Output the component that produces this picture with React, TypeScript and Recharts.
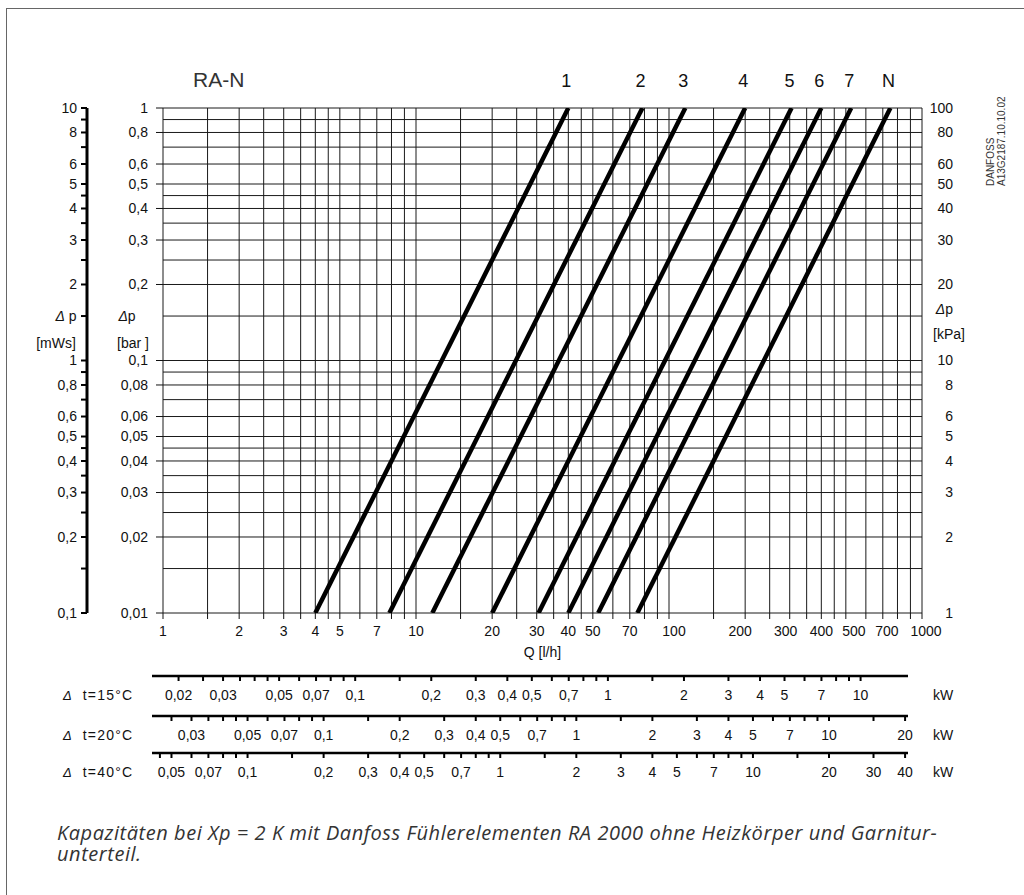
import React from 'react'
import { LineChart, Line, XAxis, YAxis, CartesianGrid, LabelList } from 'recharts'

// pressure drop curves, dp in bar, Q in l/h (each curve is a straight line in log-log)
const curveNames = ['1', '2', '3', '4', '5', '6', '7', 'N']
const qAtLowDp = [4, 7.85, 11.6, 20, 30.5, 40, 52.5, 75]
const qAtHighDp = [40, 78.5, 116, 200, 305, 400, 525, 750]
const dpLow = 0.01
const dpHigh = 1

// Q axis
const qGrid = [1, 1.5, 2, 2.5, 3, 3.5, 4, 4.5, 5, 6, 7, 8, 9, 10, 15, 20, 25, 30, 35, 40, 45, 50, 60, 70, 80, 90, 100, 150, 200, 250, 300, 350, 400, 450, 500, 600, 700, 800, 900, 1000]
const qLabels = [1, 2, 3, 4, 5, 7, 10, 20, 30, 40, 50, 70, 100, 200, 300, 400, 500, 700, 1000]
// small horizontal shifts of crowded labels, as in the original print
const qLabelNudge: Record<number, number> = { 100: 5, 200: -5, 300: -4, 500: 8, 700: 4, 1000: 4 }

// bar axis
const barGrid = [0.01, 0.015, 0.02, 0.025, 0.03, 0.035, 0.04, 0.045, 0.05, 0.06, 0.07, 0.08, 0.09, 0.1, 0.15, 0.2, 0.25, 0.3, 0.35, 0.4, 0.45, 0.5, 0.6, 0.7, 0.8, 0.9, 1]
const barLabels = [0.01, 0.02, 0.03, 0.04, 0.05, 0.06, 0.08, 0.1, 0.2, 0.3, 0.4, 0.5, 0.6, 0.8, 1]

// mWs axis
const mwsTicks = [0.1, 0.15, 0.2, 0.25, 0.3, 0.35, 0.4, 0.45, 0.5, 0.6, 0.7, 0.8, 0.9, 1, 1.5, 2, 2.5, 3, 3.5, 4, 4.5, 5, 6, 7, 8, 9, 10]
const mwsLabels = [0.1, 0.2, 0.3, 0.4, 0.5, 0.6, 0.8, 1, 2, 3, 4, 5, 6, 8, 10]

// kPa axis
const kpaTicks = [1, 2, 3, 4, 5, 6, 8, 10, 15, 20, 30, 40, 50, 60, 80, 100]
const kpaLabels = [1, 2, 3, 4, 5, 6, 8, 10, 20, 30, 40, 50, 60, 80, 100]

// kW scales
const kwScaleRange = [0.9, 883] // Q span of the kW scale lines
const kw15Ticks = [0.02, 0.025, 0.03, 0.035, 0.04, 0.045, 0.05, 0.06, 0.07, 0.08, 0.09, 0.1, 0.15, 0.2, 0.3, 0.4, 0.5, 0.6, 0.7, 0.8, 0.9, 1, 1.5, 2, 3, 4, 5, 6, 7, 8, 9, 10]
const kw15Labels = [0.02, 0.03, 0.05, 0.07, 0.1, 0.2, 0.3, 0.4, 0.5, 0.7, 1, 2, 3, 4, 5, 7, 10]
const kw20Ticks = [0.025, 0.03, 0.035, 0.04, 0.045, 0.05, 0.06, 0.07, 0.08, 0.09, 0.1, 0.15, 0.2, 0.3, 0.4, 0.5, 0.6, 0.7, 0.8, 0.9, 1, 1.5, 2, 3, 4, 5, 6, 7, 8, 9, 10, 15, 20]
const kw20Labels = [0.03, 0.05, 0.07, 0.1, 0.2, 0.3, 0.4, 0.5, 0.7, 1, 2, 3, 4, 5, 7, 10, 20]
const kw40Ticks = [0.045, 0.05, 0.06, 0.07, 0.08, 0.09, 0.1, 0.15, 0.2, 0.3, 0.4, 0.5, 0.6, 0.7, 0.8, 0.9, 1, 1.5, 2, 3, 4, 5, 6, 7, 8, 9, 10, 15, 20, 30, 40]
const kw40Labels = [0.05, 0.07, 0.1, 0.2, 0.3, 0.4, 0.5, 0.7, 1, 2, 3, 4, 5, 7, 10, 20, 30, 40]

const FONT = '"Liberation Sans", Arial, Helvetica, sans-serif'
const INK = '#111'

const curves = curveNames.map((name, i) => ({
    name,
    data: [
        { q: qAtLowDp[i], p: dpLow },
        { q: qAtHighDp[i], p: dpHigh, tag: name },
    ],
}))

const fmt = (v: number) => String(v).replace('.', ',')

function QTick(props: any) {
    const { x, y, payload } = props
    const v = payload.value
    if (!qLabels.includes(v)) return <g />
    return (
        <text x={x + (qLabelNudge[v] || 0)} y={y} dy="0.71em" textAnchor="middle" fontFamily={FONT} fontSize={14} fill={INK}>{v}</text>
    )
}

function BarTick(props: any) {
    const { x, y, payload } = props
    const v = payload.value
    if (v === 0.15) {
        return (
            <g fontFamily={FONT} fontSize={14} fill={INK}>
                <text x={x - 36} y={y} dy="0.35em" textAnchor="middle"><tspan fontStyle="italic">Δ</tspan>p</text>
                <text x={x - 30} y={y + 27} dy="0.35em" textAnchor="middle">[bar ]</text>
            </g>
        )
    }
    if (!barLabels.includes(v)) return <g />
    return (
        <g>
            <line x1={x - 7} x2={x} y1={y} y2={y} stroke={INK} strokeWidth={1} />
            <text x={x - 15} y={y} dy="0.35em" textAnchor="end" fontFamily={FONT} fontSize={14} fill={INK}>{fmt(v)}</text>
        </g>
    )
}

function MwsTick(props: any) {
    const { x, y, payload } = props
    const v = payload.value
    if (v === 1.5) {
        return (
            <g fontFamily={FONT} fontSize={14} fill={INK}>
                <text x={x - 11} y={y} dy="0.35em" textAnchor="middle"><tspan fontStyle="italic">Δ</tspan> p</text>
                <text x={x - 21} y={y + 27} dy="0.35em" textAnchor="middle">[mWs]</text>
            </g>
        )
    }
    if (!mwsLabels.includes(v)) return <g />
    return (
        <text x={x} y={y} dy="0.35em" textAnchor="end" fontFamily={FONT} fontSize={14} fill={INK}>{fmt(v)}</text>
    )
}

function KpaTick(props: any) {
    const { x, y, payload } = props
    const v = payload.value
    if (v === 15) {
        return (
            <g fontFamily={FONT} fontSize={14} fill={INK}>
                <text x={x + 31} y={y - 7} dy="0.35em" textAnchor="end"><tspan fontStyle="italic">Δ</tspan>p</text>
                <text x={x + 27} y={y + 18} dy="0.35em" textAnchor="middle">[kPa]</text>
            </g>
        )
    }
    if (!kpaLabels.includes(v)) return <g />
    return (
        <text x={x + 31} y={y} dy="0.35em" textAnchor="end" fontFamily={FONT} fontSize={14} fill={INK}>{fmt(v)}</text>
    )
}

function CurveLabel(props: any) {
    const { x, y, value } = props
    if (!value) return null
    return (
        <text x={x - 2} y={y - 21} textAnchor="middle" fontFamily={FONT} fontSize={18} fill={INK}>{value}</text>
    )
}

function KwScale({ top, dT, ticks, labels }: { top: number; dT: number; ticks: number[]; labels: number[] }) {
    // kW -> l/h for water: Q = P / (1.163 Wh/kgK * dT)
    const qTicks = ticks.map((k) => k / (0.001163 * dT))
    const rows = qTicks.map((q) => ({ q }))
    return (
        <div style={{ position: 'absolute', left: 0, top: top - 2 }}>
            <LineChart width={1024} height={40} data={rows} margin={{ top: 0, right: 116, bottom: 0, left: 152 }}>
                <XAxis
                    dataKey="q"
                    type="number"
                    scale="log"
                    domain={kwScaleRange}
                    allowDataOverflow
                    ticks={qTicks}
                    interval={0}
                    height={38}
                    axisLine={{ stroke: '#000', strokeWidth: 2.5 }}
                    tickLine={{ stroke: '#000', strokeWidth: 2 }}
                    tickSize={5}
                    tickMargin={9}
                    tick={{ fill: INK, fontSize: 14, fontFamily: FONT }}
                    tickFormatter={(_v: number, i: number) => (labels.includes(ticks[i]) ? fmt(ticks[i]) : '')}
                />
                <YAxis hide domain={[0, 1]} />
            </LineChart>
            <div style={{ position: 'absolute', left: 63, top: 13, fontFamily: FONT, fontSize: 14, lineHeight: '16px', color: INK, whiteSpace: 'nowrap' }}>
                <span style={{ fontStyle: 'italic', fontSize: 13 }}>Δ</span>
                <span style={{ marginLeft: 11, letterSpacing: 1.2 }}>t={dT}°C</span>
            </div>
            <div style={{ position: 'absolute', left: 933, top: 13, fontFamily: FONT, fontSize: 14, lineHeight: '16px', color: INK }}>kW</div>
        </div>
    )
}

export default function App() {
    return (
        <div style={{ position: 'absolute', left: 0, top: 0, width: 1024, height: 895, overflow: 'hidden', background: '#fff' }}>
            <div style={{ position: 'absolute', left: 6, top: 8, width: 1100, height: 1000, borderLeft: '1.5px solid #666', borderTop: '1.5px solid #666' }} />

            <div style={{ position: 'absolute', left: 193, top: 67, fontFamily: FONT, fontSize: 21, lineHeight: '26px', color: '#333' }}>RA-N</div>

            <div
                style={{
                    position: 'absolute', left: 985, top: 186, transform: 'rotate(-90deg)', transformOrigin: '0 0',
                    fontFamily: FONT, fontSize: 10, lineHeight: '11px', color: '#333', whiteSpace: 'nowrap',
                }}
            >
                <div>DANFOSS</div>
                <div>A13G2187.10.10.02</div>
            </div>

            <div style={{ position: 'absolute', left: 0, top: 0 }}>
                <LineChart width={1024} height={680} margin={{ top: 108, right: 42, bottom: 19, left: 7 }}>
                    <CartesianGrid xAxisId="q" yAxisId="bar" stroke="#1a1a1a" strokeWidth={1} />
                    <XAxis
                        xAxisId="q"
                        dataKey="q"
                        type="number"
                        scale="log"
                        domain={[1, 1000]}
                        allowDataOverflow
                        ticks={qGrid}
                        interval={0}
                        height={48}
                        axisLine={false}
                        tickLine={{ stroke: INK }}
                        tickSize={6}
                        tickMargin={7}
                        tick={<QTick />}
                        label={{ value: 'Q [l/h]', position: 'insideBottom', offset: 4, fill: INK, fontSize: 14, fontFamily: FONT }}
                    />
                    <YAxis
                        yAxisId="bar"
                        type="number"
                        scale="log"
                        domain={[0.01, 1]}
                        allowDataOverflow
                        ticks={barGrid}
                        interval={0}
                        width={76}
                        axisLine={false}
                        tickLine={false}
                        tickSize={0}
                        tickMargin={0}
                        tick={<BarTick />}
                    />
                    <YAxis
                        yAxisId="mws"
                        type="number"
                        scale="log"
                        domain={[0.1, 10]}
                        allowDataOverflow
                        ticks={mwsTicks}
                        interval={0}
                        width={80}
                        axisLine={{ stroke: '#000', strokeWidth: 3 }}
                        tickLine={{ stroke: '#000', strokeWidth: 2 }}
                        tickSize={6}
                        tickMargin={4}
                        tick={<MwsTick />}
                    />
                    <YAxis
                        yAxisId="kpa"
                        orientation="right"
                        type="number"
                        scale="log"
                        domain={[1, 100]}
                        allowDataOverflow
                        ticks={kpaTicks}
                        interval={0}
                        width={60}
                        axisLine={false}
                        tickLine={false}
                        tickSize={0}
                        tickMargin={0}
                        tick={<KpaTick />}
                    />
                    {curves.map((c) => (
                        <Line
                            key={c.name}
                            xAxisId="q"
                            yAxisId="bar"
                            data={c.data}
                            dataKey="p"
                            stroke="#000"
                            strokeWidth={4.5}
                            dot={false}
                            activeDot={false}
                            isAnimationActive={false}
                        >
                            <LabelList dataKey="tag" content={<CurveLabel />} />
                        </Line>
                    ))}
                </LineChart>
            </div>

            <KwScale top={675.5} dT={15} ticks={kw15Ticks} labels={kw15Labels} />
            <KwScale top={715.8} dT={20} ticks={kw20Ticks} labels={kw20Labels} />
            <KwScale top={752.8} dT={40} ticks={kw40Ticks} labels={kw40Labels} />

            <div
                style={{
                    position: 'absolute', left: 57, top: 822, width: 960, fontFamily: '"Open Sans", "Noto Sans", sans-serif',
                    fontStyle: 'italic', fontSize: 20, lineHeight: '21px', color: '#333', letterSpacing: 0.55, whiteSpace: 'nowrap',
                }}
            >
                <div>Kapazitäten bei Xp = 2 K mit Danfoss Fühlerelementen RA 2000 ohne Heizkörper und Garnitur-</div>
                <div>unterteil.</div>
            </div>
        </div>
    )
}
